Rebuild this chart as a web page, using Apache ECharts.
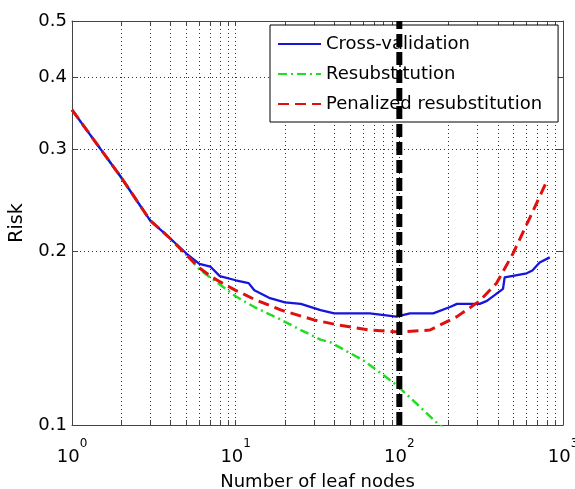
<!DOCTYPE html>
<html>
<head>
<meta charset="utf-8">
<script src="https://cdn.jsdelivr.net/npm/echarts@6/dist/echarts.min.js"></script>
<style>
html,body{margin:0;padding:0;background:#fff}
#riskchart{width:575px;height:489px}
</style>
</head>
<body>
<div id="riskchart"></div>
<script>
var FONT = 'DejaVu Sans';
// tick positions
var leafTicks = [1,2,3,4,5,6,7,8,9,10,20,30,40,50,60,70,80,90,100,200,300,400,500,600,700,800,900,1000];
var leafLabels = [1,10,100,1000];
var riskTicks = [0.1,0.2,0.3,0.4,0.5];
// cross-validation
var cvX = [1,2,3,4,5,6,7,8,10,12,13,16,20,25,33,40,66,96,116,161,204,225,310,343,430,440,600,650,720,830];
var cvY = [0.351,0.268,0.226,0.210,0.198,0.190,0.188,0.181,0.178,0.176,0.171,0.166,0.163,0.162,0.158,0.156,0.156,0.154,0.156,0.156,0.160,0.162,0.162,0.164,0.172,0.180,0.183,0.185,0.191,0.195];
// resubstitution
var resubX = [1,2,3,4,5,6,7,8,10,13,19,25,33,38,48,60,76,96,130,170,200];
var resubY = [0.351,0.268,0.226,0.210,0.197,0.186,0.180,0.175,0.167,0.160,0.152,0.146,0.1405,0.139,0.134,0.1295,0.1233,0.1173,0.1083,0.1008,0.097];
// penalized resubstitution
var penX = [1,2,3,4,5,6,7,8,10,13,19,30,42,66,100,154,225,310,393,495,630,800];
var penY = [0.351,0.268,0.226,0.210,0.197,0.187,0.181,0.177,0.171,0.165,0.158,0.152,0.149,0.146,0.1448,0.146,0.154,0.164,0.176,0.198,0.229,0.265];
// best tree size
var bestX = [100,100];
var bestY = [0.1,0.5];

function pairs(xs, ys){
    return xs.map(function(x, i){ return [x, ys[i]]; });
}

var riskchart = echarts.init(document.getElementById('riskchart'));
var axisColor = '#444';
var option = {
    animation: false,
    backgroundColor: '#fff',
    textStyle: {fontFamily: FONT},
    grid: {left: 72, right: 12, top: 21, bottom: 64, outerBoundsMode: 'none'},
    legend: {
        data: ['Cross-validation', 'Resubstitution', 'Penalized resubstitution'],
        orient: 'vertical',
        left: 270,
        top: 25,
        itemWidth: 43,
        itemHeight: 14,
        itemGap: 12,
        padding: [10, 16, 9, 7],
        borderColor: '#000',
        borderWidth: 1,
        backgroundColor: '#fff',
        itemStyle: {opacity: 0},
        textStyle: {fontSize: 18, color: '#000', fontFamily: FONT}
    },
    xAxis: [{
        type: 'log', logBase: 10, min: 1, max: 1000, position: 'bottom',
        name: 'Number of leaf nodes', nameLocation: 'middle', nameGap: 48,
        nameTextStyle: {fontSize: 18, color: '#000', fontFamily: FONT},
        axisLine: {show: true, onZero: false, lineStyle: {color: axisColor}},
        axisTick: {show: true, inside: true, length: 5, customValues: leafTicks, lineStyle: {color: axisColor}},
        axisLabel: {
            customValues: leafLabels, margin: 21, color: '#000',
            formatter: function(v){ return '{b|10}{s|' + Math.round(Math.log10(v)) + '}'; },
            rich: {
                b: {fontSize: 18, fontFamily: FONT, color: '#000', lineHeight: 20, verticalAlign: 'bottom'},
                s: {fontSize: 12, fontFamily: FONT, color: '#000', lineHeight: 12, verticalAlign: 'bottom', padding: [0, 0, 16, 0]}
            }
        },
        splitLine: {show: true, lineStyle: {type: [1, 3], color: '#333', width: 1}}
    }, {
        type: 'log', logBase: 10, min: 1, max: 1000, position: 'top',
        axisLine: {show: true, onZero: false, lineStyle: {color: axisColor}},
        axisTick: {show: true, inside: true, length: 5, customValues: leafTicks, lineStyle: {color: axisColor}},
        axisLabel: {show: false},
        splitLine: {show: false}
    }],
    yAxis: [{
        type: 'log', logBase: 10, min: 0.1, max: 0.5, position: 'left',
        name: 'Risk', nameLocation: 'middle', nameGap: 45,
        nameTextStyle: {fontSize: 19, color: '#000', fontFamily: FONT},
        axisLine: {show: true, onZero: false, lineStyle: {color: axisColor}},
        axisTick: {show: true, inside: true, length: 6, customValues: riskTicks, lineStyle: {color: axisColor}},
        axisLabel: {
            customValues: riskTicks, margin: 5, color: '#000', fontSize: 18, fontFamily: FONT,
            formatter: function(v){ return v.toFixed(1); }
        },
        splitLine: {show: true, lineStyle: {type: [1, 3], color: '#333', width: 1}}
    }, {
        type: 'log', logBase: 10, min: 0.1, max: 0.5, position: 'right',
        axisLine: {show: true, onZero: false, lineStyle: {color: axisColor}},
        axisTick: {show: true, inside: true, length: 6, customValues: riskTicks, lineStyle: {color: axisColor}},
        axisLabel: {show: false},
        splitLine: {show: false}
    }],
    series: [{
        name: 'Cross-validation', type: 'line', symbol: 'none',
        lineStyle: {color: '#1515dd', width: 2.3, type: 'solid'},
        itemStyle: {color: '#1515dd'},
        data: pairs(cvX, cvY), z: 3
    }, {
        name: 'Resubstitution', type: 'line', symbol: 'none', clip: true,
        lineStyle: {color: '#22dd22', width: 2.5, type: [9, 4, 2, 4]},
        itemStyle: {color: '#22dd22'},
        data: pairs(resubX, resubY), z: 2
    }, {
        name: 'Penalized resubstitution', type: 'line', symbol: 'none',
        lineStyle: {color: '#e01010', width: 3, type: [11, 6]},
        itemStyle: {color: '#e01010'},
        data: pairs(penX, penY), z: 4
    }, {
        name: 'best', type: 'line', symbol: 'none',
        lineStyle: {color: '#000', width: 6, type: [13, 5]},
        data: pairs(bestX, bestY), z: 5
    }]
};
riskchart.setOption(option);
</script>
</body>
</html>
